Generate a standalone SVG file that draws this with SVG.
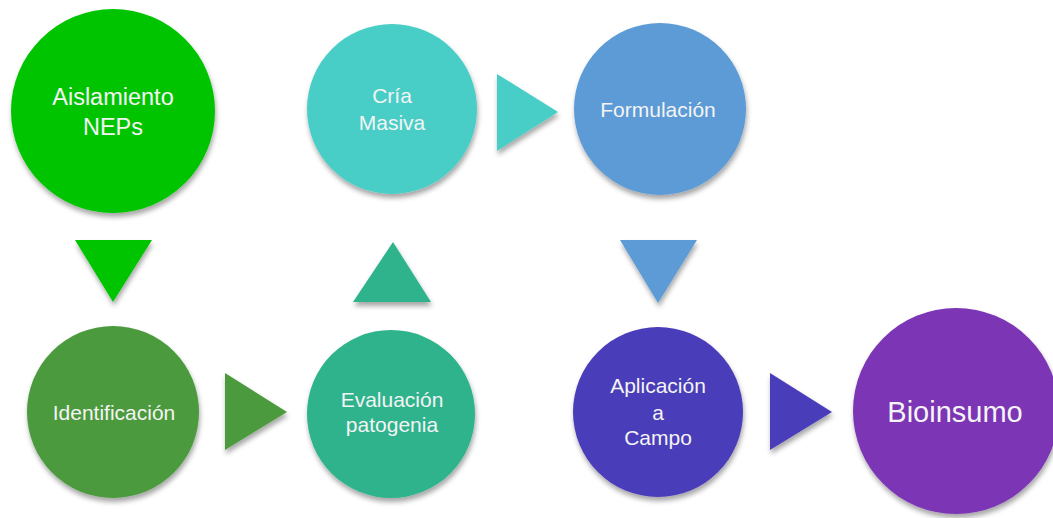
<svg xmlns="http://www.w3.org/2000/svg" width="1053" height="518" viewBox="0 0 1053 518">
  <defs>
    <filter id="sh" x="-20%" y="-20%" width="140%" height="150%">
      <feDropShadow dx="1" dy="4" stdDeviation="2.5" flood-color="#000" flood-opacity="0.35"/>
    </filter>
  </defs>
  <style>
    .lbl { font-family: "Liberation Sans", Arial, sans-serif; font-size: 21px; fill: #F4F4F4; text-anchor: middle; }
    .mid { font-size: 23.5px; }
    .big { font-size: 29px; }
    .node circle { filter: url(#sh); }
    .conn polygon { filter: url(#sh); }
  </style>
  <rect width="1053" height="518" fill="#FFFFFF"/>

  <g id="connectors" class="conn">
    <polygon points="75,240 152,240 113,302" fill="#00C400"/>
    <polygon points="225,373 225,450 287,412" fill="#4C9A3C"/>
    <polygon points="353,302 431,302 393,242" fill="#2DB38C"/>
    <polygon points="497,74 497,151 558,112" fill="#48CEC7"/>
    <polygon points="620,240 697,240 658,303" fill="#5B9BD5"/>
    <polygon points="770,373 770,450 832,412" fill="#4A3DB9"/>
  </g>

  <g id="n-aislamiento" class="node">
    <circle cx="113" cy="111" r="102" fill="#00C400"/>
    <text class="lbl mid" x="113" y="105">Aislamiento</text>
    <text class="lbl mid" x="113" y="135">NEPs</text>
  </g>
  <g id="n-cria" class="node">
    <circle cx="392" cy="109" r="85" fill="#48CEC7"/>
    <text class="lbl" x="392" y="103">Cría</text>
    <text class="lbl" x="392" y="130">Masiva</text>
  </g>
  <g id="n-formulacion" class="node">
    <circle cx="660" cy="109" r="86" fill="#5B9BD5"/>
    <text class="lbl" x="658" y="117">Formulación</text>
  </g>
  <g id="n-identificacion" class="node">
    <circle cx="113" cy="412" r="86" fill="#4C9A3C"/>
    <text class="lbl" x="114" y="420">Identificación</text>
  </g>
  <g id="n-evaluacion" class="node">
    <circle cx="391" cy="414" r="84" fill="#2DB38C"/>
    <text class="lbl" x="392" y="407">Evaluación</text>
    <text class="lbl" x="392" y="432">patogenia</text>
  </g>
  <g id="n-aplicacion" class="node">
    <circle cx="658" cy="412" r="85" fill="#4A3DB9"/>
    <text class="lbl" x="658" y="393">Aplicación</text>
    <text class="lbl" x="658" y="420">a</text>
    <text class="lbl" x="658" y="445">Campo</text>
  </g>
  <g id="n-bioinsumo" class="node">
    <circle cx="956" cy="411" r="103" fill="#7B35B4"/>
    <text class="lbl big" x="955" y="422">Bioinsumo</text>
  </g>
</svg>
